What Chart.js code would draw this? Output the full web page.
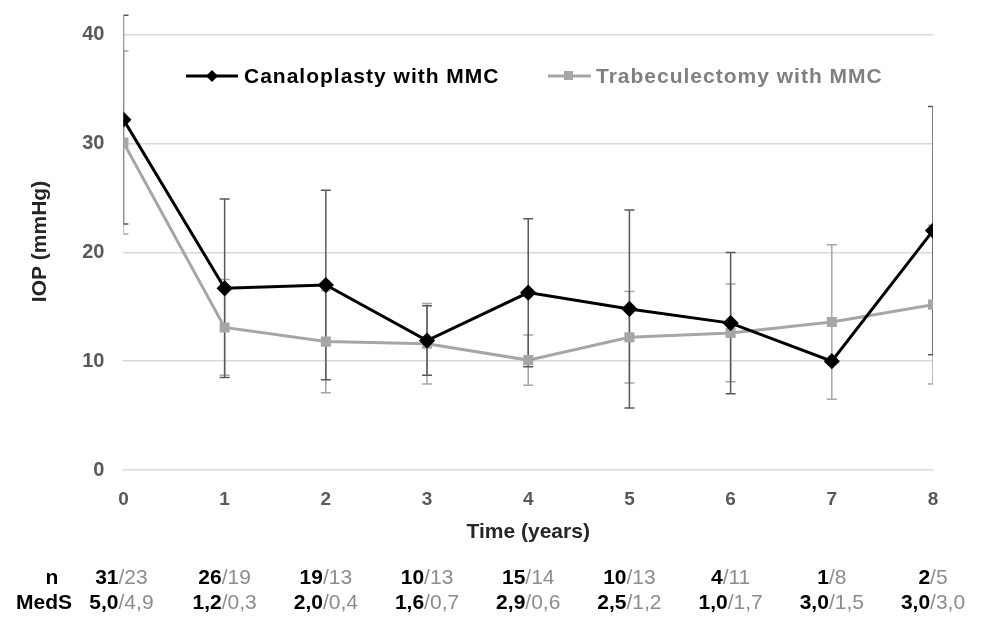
<!DOCTYPE html>
<html>
<head>
<meta charset="utf-8">
<script src="https://cdn.jsdelivr.net/npm/chart.js@4"></script>
<style>
  html, body { margin: 0; padding: 0; background: #fff; overflow: hidden; }
  #wrap { width: 983px; height: 640px; margin-top: -18px; }
</style>
</head>
<body>
<div id="wrap"><canvas id="iop-chart"></canvas></div>
<script>
// time points (years)
const years = [0, 1, 2, 3, 4, 5, 6, 7, 8];

// mean IOP (mmHg) and SD for error bars
const canalMean = [32.2, 16.7, 17.0, 11.9, 16.3, 14.8, 13.5, 10.0, 22.0];
const canalSD   = [9.6, 8.2, 8.7, 3.2, 6.8, 9.1, 6.5, null, 11.4];
const trabMean  = [30.1, 13.1, 11.8, 11.6, 10.1, 12.2, 12.6, 13.6, 15.2];
const trabSD    = [8.4, 4.4, 4.7, 3.7, 2.3, 4.2, 4.5, 7.1, 7.3];

// table under the axis
const nCanal    = ["31", "26", "19", "10", "15", "10", "4", "1", "2"];
const nTrab     = ["23", "19", "13", "13", "14", "13", "11", "8", "5"];
const medsCanal = ["5,0", "1,2", "2,0", "1,6", "2,9", "2,5", "1,0", "3,0", "3,0"];
const medsTrab  = ["4,9", "0,3", "0,4", "0,7", "0,6", "1,2", "1,7", "1,5", "3,0"];

const FONT = "'Liberation Sans', Arial, sans-serif";

// error bars drawn under the lines
const errorBars = {
  id: 'errorBars',
  beforeDatasetsDraw(chart) {
    const ctx = chart.ctx, x = chart.scales.x, y = chart.scales.y, area = chart.chartArea;
    const sets = [
      { mean: trabMean, sd: trabSD, color: '#a6a6a6' },
      { mean: canalMean, sd: canalSD, color: '#595959' }
    ];
    ctx.save();
    ctx.beginPath();
    ctx.rect(area.left, 0, area.right - area.left, chart.height);
    ctx.clip();
    ctx.lineWidth = 1.5;
    sets.forEach(s => {
      ctx.strokeStyle = s.color;
      years.forEach((t, i) => {
        if (s.sd[i] == null) return;
        const px = x.getPixelForValue(t);
        const top = y.getPixelForValue(s.mean[i] + s.sd[i]);
        const bot = y.getPixelForValue(s.mean[i] - s.sd[i]);
        ctx.beginPath();
        ctx.moveTo(px, top); ctx.lineTo(px, bot);
        ctx.moveTo(px - 5, top); ctx.lineTo(px + 5, top);
        ctx.moveTo(px - 5, bot); ctx.lineTo(px + 5, bot);
        ctx.stroke();
      });
    });
    ctx.restore();
  }
};

// legend inside the plot + n / MedS table below
const extras = {
  id: 'extras',
  afterDraw(chart) {
    const ctx = chart.ctx, x = chart.scales.x, area = chart.chartArea;
    ctx.save();
    // legend
    const ly = area.top + 63;
    ctx.font = "bold 21px " + FONT;
    ctx.letterSpacing = '1px';
    ctx.textBaseline = 'middle';
    ctx.textAlign = 'left';
    ctx.lineWidth = 3;
    ctx.strokeStyle = '#000';
    ctx.beginPath(); ctx.moveTo(186, ly); ctx.lineTo(238, ly); ctx.stroke();
    ctx.fillStyle = '#000';
    ctx.beginPath();
    ctx.moveTo(212, ly - 6); ctx.lineTo(218, ly); ctx.lineTo(212, ly + 6); ctx.lineTo(206, ly);
    ctx.closePath(); ctx.fill();
    ctx.fillText(chart.data.datasets[0].label, 244, ly + 1);
    ctx.strokeStyle = '#a6a6a6';
    ctx.beginPath(); ctx.moveTo(548, ly); ctx.lineTo(591, ly); ctx.stroke();
    ctx.fillStyle = '#a6a6a6';
    ctx.fillRect(564, ly - 5, 9, 9);
    ctx.fillStyle = '#808080';
    ctx.fillText(chart.data.datasets[1].label, 596, ly + 1);
    ctx.letterSpacing = '0px';

    // table
    const rows = [
      { label: 'n', a: nCanal, b: nTrab, y: area.bottom + 108, lx: 52 },
      { label: 'MedS', a: medsCanal, b: medsTrab, y: area.bottom + 133, lx: 44 }
    ];
    rows.forEach(r => {
      ctx.font = "bold 21px " + FONT;
      ctx.textAlign = 'center';
      ctx.fillStyle = '#000';
      ctx.fillText(r.label, r.lx, r.y);
      years.forEach((t, i) => {
        const cx = x.getPixelForValue(t) + (i === 0 ? -2 : 0);
        ctx.font = "bold 21px " + FONT;
        const wa = ctx.measureText(r.a[i]).width;
        ctx.font = "21px " + FONT;
        const wb = ctx.measureText('/' + r.b[i]).width;
        const left = cx - (wa + wb) / 2;
        ctx.textAlign = 'left';
        ctx.font = "bold 21px " + FONT;
        ctx.fillStyle = '#000';
        ctx.fillText(r.a[i], left, r.y);
        ctx.font = "21px " + FONT;
        ctx.fillStyle = '#8c8c8c';
        ctx.fillText('/' + r.b[i], left + wa, r.y);
      });
    });
    ctx.restore();
  }
};

new Chart(document.getElementById('iop-chart'), {
  type: 'line',
  data: {
    datasets: [{
      label: 'Canaloplasty with MMC',
      data: years.map((t, i) => ({ x: t, y: canalMean[i] })),
      borderColor: '#000',
      backgroundColor: '#000',
      borderWidth: 3,
      pointStyle: 'rectRot',
      pointRadius: 6,
      pointHoverRadius: 6,
      tension: 0
    }, {
      label: 'Trabeculectomy with MMC',
      data: years.map((t, i) => ({ x: t, y: trabMean[i] })),
      borderColor: '#a6a6a6',
      backgroundColor: '#a6a6a6',
      borderWidth: 3,
      pointStyle: 'rect',
      pointRadius: 5,
      pointHoverRadius: 5,
      tension: 0
    }]
  },
  options: {
    responsive: true,
    maintainAspectRatio: false,
    animation: false,
    layout: { padding: { top: 0, right: 50, bottom: 77, left: 28 } },
    plugins: {
      legend: { display: false },
      tooltip: { enabled: false }
    },
    scales: {
      x: {
        type: 'linear',
        min: 0,
        max: 8,
        border: { display: false },
        grid: { display: false, drawTicks: false },
        ticks: {
          stepSize: 1,
          padding: 18,
          color: '#595959',
          font: { family: FONT, size: 19, weight: 'bold' }
        },
        title: {
          display: true,
          text: 'Time (years)',
          color: '#262626',
          padding: { top: -9, bottom: 0 },
          font: { family: FONT, size: 21, weight: 'bold' }
        }
      },
      y: {
        min: 0,
        max: 42,
        border: { display: false },
        afterBuildTicks(axis) {
          axis.ticks = [0, 10, 20, 30, 40].map(v => ({ value: v }));
        },
        grid: { color: '#d9d9d9', lineWidth: 1.5, drawTicks: false },
        ticks: {
          padding: 19,
          color: '#595959',
          font: { family: FONT, size: 20, weight: 'bold' }
        },
        title: {
          display: true,
          text: 'IOP (mmHg)',
          color: '#262626',
          padding: { top: 0, bottom: 10 },
          font: { family: FONT, size: 21, weight: 'bold' }
        }
      }
    }
  },
  plugins: [errorBars, extras]
});
</script>
</body>
</html>
